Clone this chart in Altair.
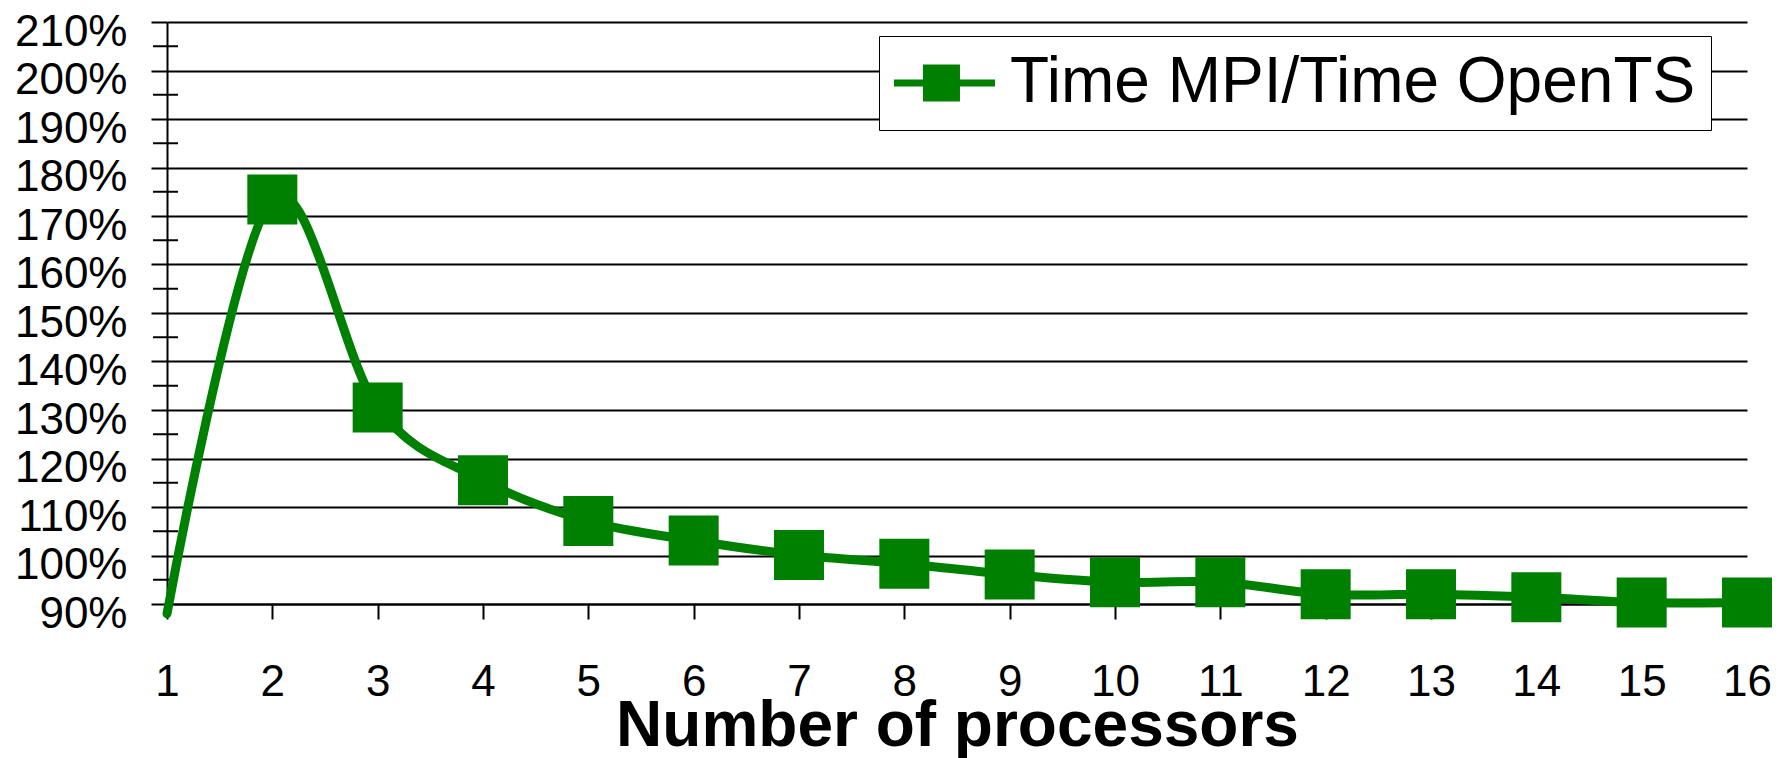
import altair as alt
import pandas as pd

# Ratio of MPI run time to OpenTS run time, per processor count
processors = list(range(1, 17))
time_ratio_pct = [88.0, 173.4, 130.5, 115.5, 107.1, 103.1, 100.1, 98.3,
                  96.1, 94.5, 94.5, 92.0, 92.0, 91.4, 90.3, 90.3]
series_name = "Time MPI/Time OpenTS"

# Axis tick positions
x_ticks = processors
y_major = list(range(90, 211, 10))
y_minor = list(range(95, 206, 10))

GREEN = "#008000"
FONT = "Liberation Sans"

df = pd.DataFrame({"n": processors, "ratio": time_ratio_pct, "series": series_name})
minor_df = pd.DataFrame({"m": y_minor})

x_scale = alt.Scale(domain=[1, 16], nice=False, zero=False)
y_scale = alt.Scale(domain=[90, 210], nice=False, zero=False)

x_axis = alt.Axis(
    values=x_ticks, format="d", title="Number of processors", grid=False,
    domainColor="black", domainWidth=2, tickColor="black", tickWidth=2, tickSize=15,
    labelFont=FONT, labelFontSize=44, labelColor="black", labelAngle=0,
    labelBaseline="alphabetic", labelPadding=76, labelFlush=False, labelOverlap=False,
    titleFont=FONT, titleFontSize=64, titleFontWeight="bold", titleColor="black",
    titleBaseline="alphabetic", titleY=141, titleX=790,
)
y_axis = alt.Axis(
    values=y_major, labelExpr="datum.value + '%'", title=None,
    grid=True, gridColor="black", gridWidth=2, gridOpacity=1,
    domainColor="black", domainWidth=2, tickColor="black", tickWidth=2, tickSize=16,
    labelFont=FONT, labelFontSize=44, labelColor="black",
    labelBaseline="alphabetic", labelOffset=23, labelPadding=24,
    labelFlush=False, labelOverlap=False,
)

# Legend symbol: a short line with a square marker on it
legend_symbol = "M-1,-0.11H2.156V0.11H-1Z M-0.094,-0.578H1.062V0.578H-0.094Z"

line = alt.Chart(df).mark_line(
    interpolate="cardinal", color=GREEN, strokeWidth=9,
    strokeCap="round", strokeJoin="round",
).encode(
    x=alt.X("n:Q", scale=x_scale, axis=x_axis),
    y=alt.Y("ratio:Q", scale=y_scale, axis=y_axis),
)

squares = alt.Chart(df).transform_filter("datum.n > 1").mark_square(
    size=2500, filled=True, opacity=1,
).encode(
    x=alt.X("n:Q", scale=x_scale),
    y=alt.Y("ratio:Q", scale=y_scale),
    color=alt.Color(
        "series:N", scale=alt.Scale(range=[GREEN]),
        legend=alt.Legend(
            title=None, orient="none", legendX=712, legendY=14,
            symbolType=legend_symbol, symbolSize=4096, symbolStrokeWidth=0,
            labelFont=FONT, labelFontSize=64, labelColor="black", labelOffset=52,
            labelLimit=1000, padding=15,
            strokeColor="black", fillColor="white",
        ),
    ),
)

# Minor ticks crossing the y axis halfway between the labelled values
minor_ticks = alt.Chart(minor_df).mark_rule(color="black", strokeWidth=2).encode(
    y=alt.Y("m:Q", scale=y_scale),
    x=alt.value(-14),
    x2=alt.value(11),
)

chart = alt.layer(minor_ticks, line, squares).properties(
    width=1580, height=582,
    padding={"left": 167, "top": 22, "right": 40, "bottom": 154},
    autosize=alt.AutoSizeParams(type="none"),
    background="white",
).configure_view(stroke=None)

chart.save("out.html", embed_options={"renderer": "svg", "actions": False})
